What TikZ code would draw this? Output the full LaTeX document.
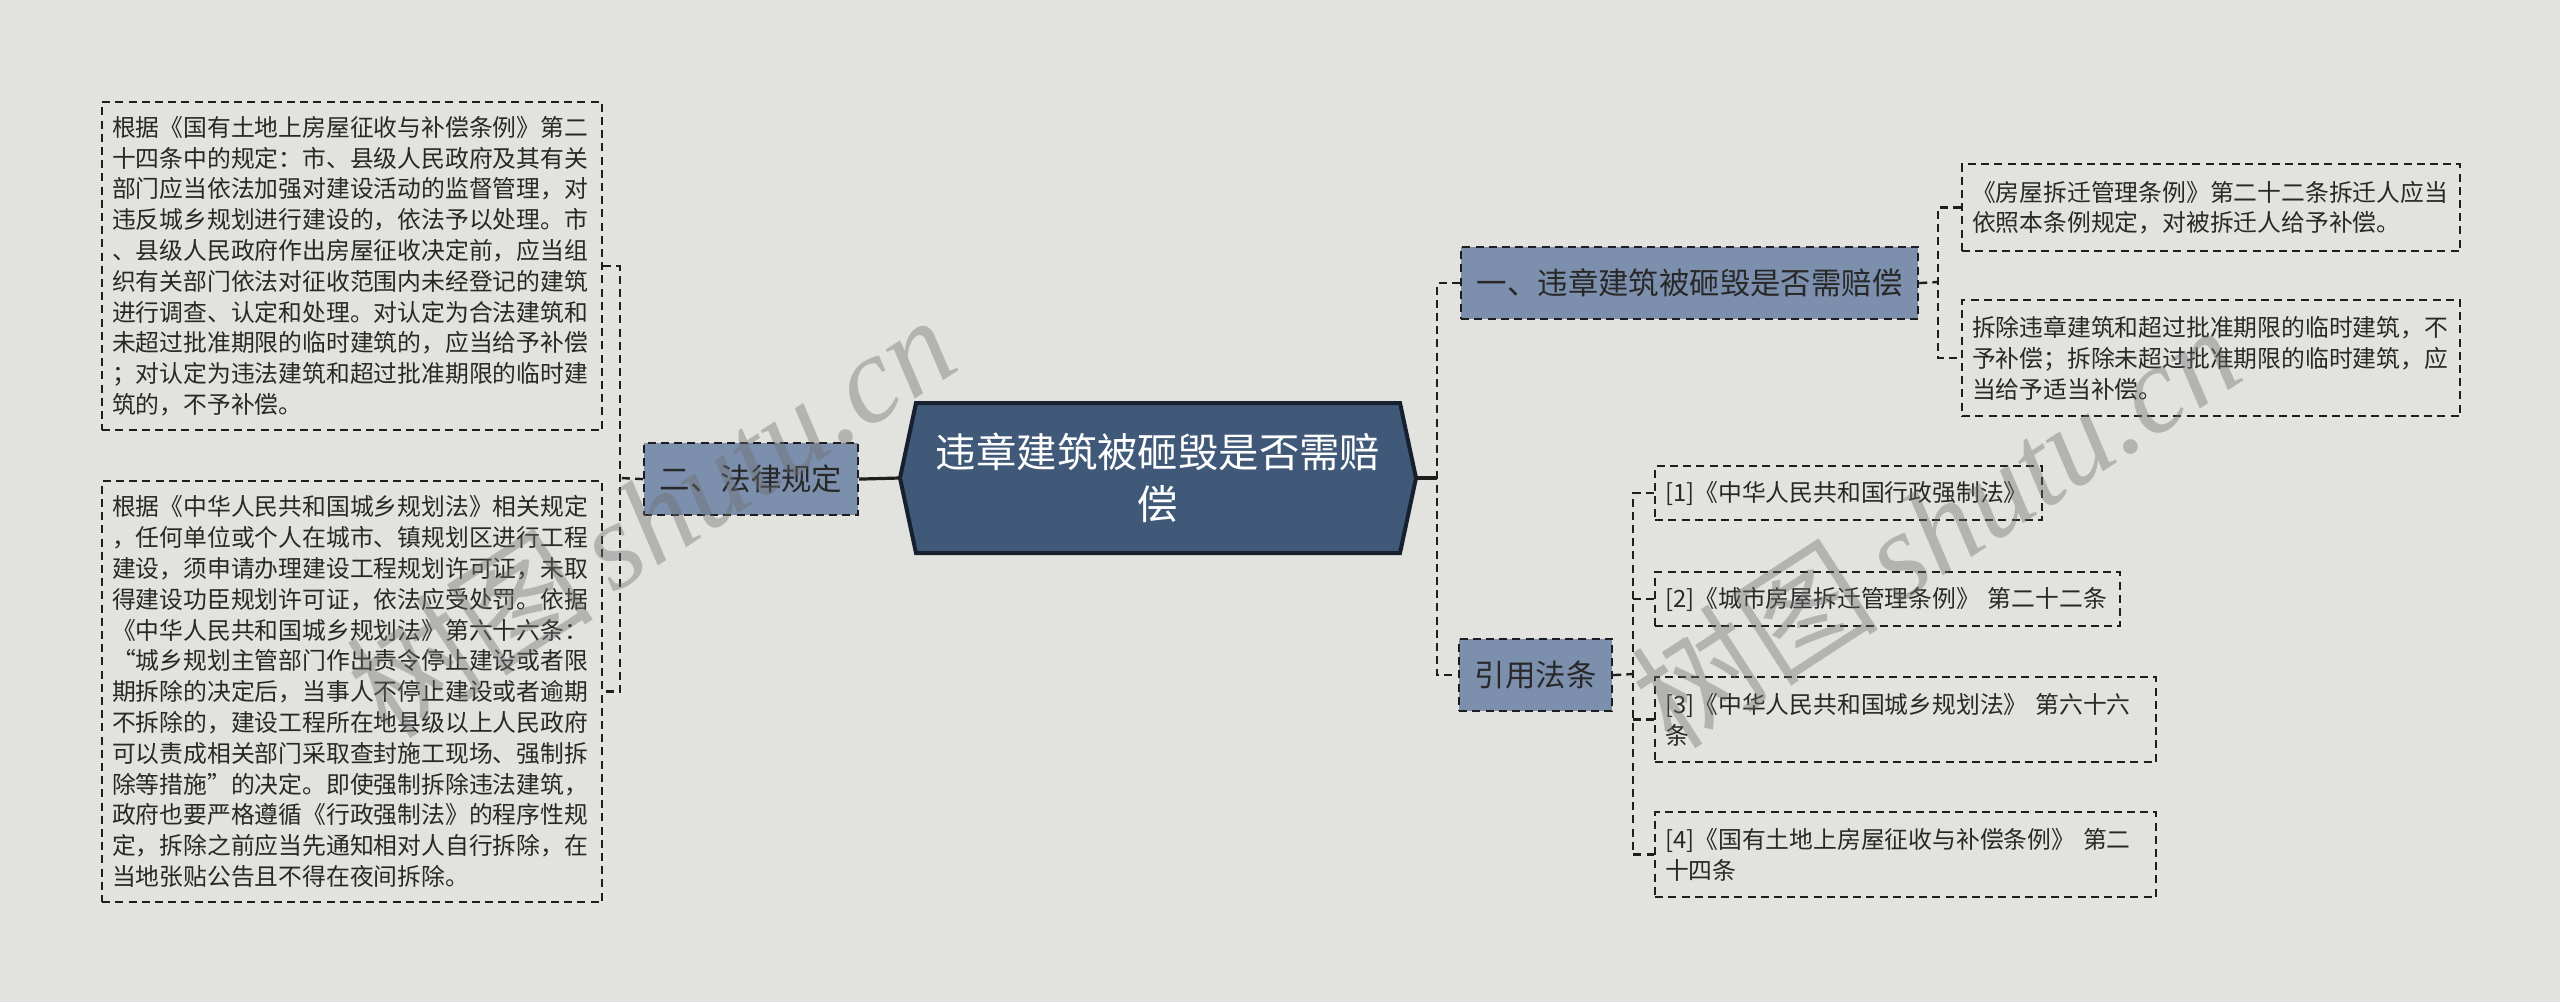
\documentclass[tikz,border=0pt]{standalone}
\usepackage{fontspec}
\setmainfont{Noto Sans CJK SC}
\newfontfamily\wmserif{Liberation Serif}
\definecolor{bgc}{RGB}{226,226,222}
\definecolor{lvc}{RGB}{124,143,173}
\definecolor{rootc}{RGB}{65,89,120}
\definecolor{rootb}{RGB}{22,32,46}
\definecolor{txt}{RGB}{40,40,40}
\definecolor{lnc}{RGB}{30,30,30}
\definecolor{wmc}{RGB}{110,110,110}
\begin{document}
\begin{tikzpicture}[x=0.5pt,y=-0.5pt,
  dashpat/.style={dash pattern=on 4pt off 2.6pt},
  leaf/.style={draw=lnc, dashpat, line width=1.1pt, anchor=north west, inner xsep=5pt, inner ysep=0pt, align=left, text=txt, font=\fontsize{11.9}{15.4}\selectfont},
  lvl/.style={draw=lnc, dashpat, line width=1.1pt, fill=lvc, anchor=north west, inner sep=0pt, text=txt, font=\fontsize{15.2}{18}\selectfont, minimum height=36pt},
  conn/.style={draw=lnc, dashpat, line width=1.2pt},
  solidconn/.style={draw=lnc, line width=1.6pt},
  roottext/.style={minimum width=258pt, minimum height=75pt, inner sep=0pt, text=white, align=center, font=\fontsize{20.2}{26}\selectfont},
  wm/.style={text=wmc, opacity=0.4, rotate=33, font=\fontsize{62}{62}\selectfont, inner sep=0pt}]
\path[use as bounding box, fill=bgc] (0,0) rectangle (2560,1002);

% root
\path[fill=rootc, draw=rootb, line width=2pt, line join=miter] (900,478) -- (916,403) -- (1400,403) -- (1416,478) -- (1400,553) -- (916,553) -- cycle;
\node[roottext] (root) at (1158,478) {违章建筑被砸毁是否需赔\\偿};

% level 1
\node[lvl, minimum width=228.5pt] (l1a) at (1460,246) {一、违章建筑被砸毁是否需赔偿};
\node[lvl, minimum width=107pt] (l2) at (643,442) {二、法律规定};
\node[lvl, minimum width=76.5pt] (l3) at (1458,638) {引用法条};

% left leaves
\node[leaf, text width=240pt, minimum height=164pt] (b1) at (101,101) {根据《国有土地上房屋征收与补偿条例》第二\\十四条中的规定：市、县级人民政府及其有关\\部门应当依法加强对建设活动的监督管理，对\\违反城乡规划进行建设的，依法予以处理。市\\、县级人民政府作出房屋征收决定前，应当组\\织有关部门依法对征收范围内未经登记的建筑\\进行调查、认定和处理。对认定为合法建筑和\\未超过批准期限的临时建筑的，应当给予补偿\\；对认定为违法建筑和超过批准期限的临时建\\筑的，不予补偿。};
\node[leaf, text width=240pt, minimum height=210.5pt] (b2) at (101,480) {根据《中华人民共和国城乡规划法》相关规定\\，任何单位或个人在城市、镇规划区进行工程\\建设，须申请办理建设工程规划许可证，未取\\得建设功臣规划许可证，依法应受处罚。依据\\《中华人民共和国城乡规划法》第六十六条：\\“城乡规划主管部门作出责令停止建设或者限\\期拆除的决定后，当事人不停止建设或者逾期\\不拆除的，建设工程所在地县级以上人民政府\\可以责成相关部门采取查封施工现场、强制拆\\除等措施”的决定。即使强制拆除违法建筑，\\政府也要严格遵循《行政强制法》的程序性规\\定，拆除之前应当先通知相对人自行拆除，在\\当地张贴公告且不得在夜间拆除。};

% right leaves
\node[leaf, text width=239pt, minimum height=43.5pt] (r1) at (1961,163) {《房屋拆迁管理条例》第二十二条拆迁人应当\\依照本条例规定，对被拆迁人给予补偿。};
\node[leaf, text width=239pt, minimum height=58pt] (r2) at (1961,299) {拆除违章建筑和超过批准期限的临时建筑，不\\予补偿；拆除未超过批准期限的临时建筑，应\\当给予适当补偿。};

\node[leaf, text width=183.5pt, minimum height=27pt] (c1) at (1654,465) {[1]《中华人民共和国行政强制法》};
\node[leaf, text width=222.5pt, minimum height=27pt] (c2) at (1654,571) {[2]《城市房屋拆迁管理条例》 第二十二条};
\node[leaf, text width=240.5pt, minimum height=42.5pt] (c3) at (1654,676) {[3]《中华人民共和国城乡规划法》 第六十六\\条};
\node[leaf, text width=240.5pt, minimum height=42.5pt] (c4) at (1654,811) {[4]《国有土地上房屋征收与补偿条例》 第二\\十四条};

% junctions
\coordinate (jl) at (620,478);
\coordinate (jr) at (1437,478);
\coordinate (ja) at (1938,282);
\coordinate (jc) at (1633,674);

% connectors
\draw[solidconn] (l2.east) -- (root.west);
\draw[solidconn] (root.east) -- (jr);
\draw[conn] (l2.west) -- (jl);
\draw[conn] (b1.east) -- (jl |- b1.east) -- (jl |- b2.east) -- (b2.east);
\draw[conn] (l1a.west) -- (jr |- l1a.west) -- (jr |- l3.west) -- (l3.west);
\draw[conn] (l1a.east) -- (ja);
\draw[conn] (r1.west) -- (ja |- r1.west) -- (ja |- r2.west) -- (r2.west);
\draw[conn] (l3.east) -- (jc);
\draw[conn] (c1.west) -- (jc |- c1.west) -- (jc |- c4.west) -- (c4.west);
\draw[conn] (jc |- c2.west) -- (c2.west);
\draw[conn] (jc |- c3.west) -- (c3.west);

% watermarks
\node[wm] (wm1) at (650,515) {树图\,{\wmserif\itshape shutu.cn}};
\node[wm] (wm2) at (1935,525) {树图\,{\wmserif\itshape shutu.cn}};
\end{tikzpicture}
\end{document}
